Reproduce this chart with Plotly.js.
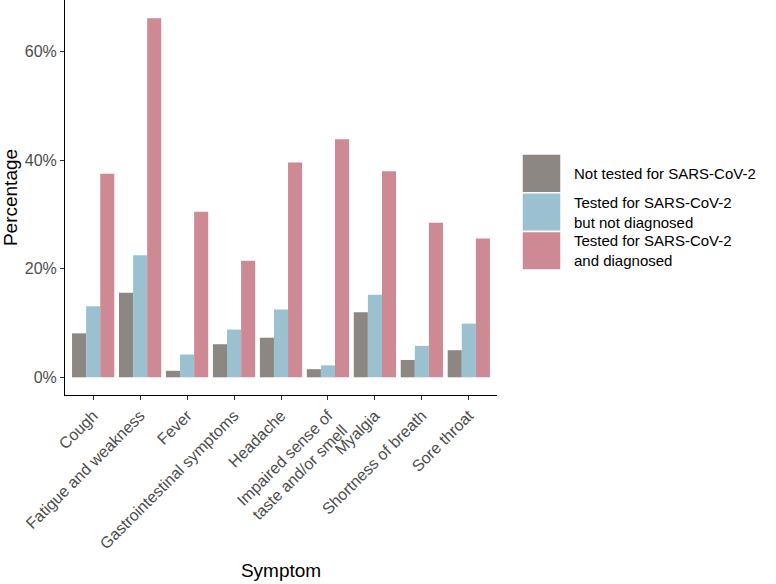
<!DOCTYPE html>
<html>
<head>
<meta charset="utf-8">
<script src="https://cdn.plot.ly/plotly-3.0.1.min.js"></script>
<style>html,body{margin:0;padding:0;background:#fff;}#chart{width:776px;height:584px;}</style>
</head>
<body>
<div id="chart"></div>
<script>
const symptoms = ["Cough", "Fatigue and weakness", "Fever", "Gastrointestinal symptoms", "Headache",
  "Impaired sense of<br>taste and/or smell", "Myalgia", "Shortness of breath", "Sore throat"];
const seriesNames = ["Not tested for SARS-CoV-2", "Tested for SARS-CoV-2<br>but not diagnosed", "Tested for SARS-CoV-2<br>and diagnosed"];
const notTested = [8.1, 15.6, 1.2, 6.1, 7.3, 1.5, 12.0, 3.2, 5.0];
const testedNotDiagnosed = [13.1, 22.5, 4.2, 8.8, 12.5, 2.2, 15.2, 5.8, 9.9];
const testedDiagnosed = [37.5, 66.2, 30.5, 21.5, 39.6, 43.9, 38.0, 28.5, 25.6];
const yTicks = [0, 20, 40, 60];
const colors = ["#8C8782", "#9BC1D1", "#CE8A94"];

const values = [notTested, testedNotDiagnosed, testedDiagnosed];
const traces = values.map((v, i) => ({
  type: "bar", x: symptoms, y: v, name: seriesNames[i],
  marker: {color: colors[i], line: {width: 0}}, showlegend: false, hoverinfo: "x+y"
}));

// custom legend (ggplot-style large keys)
const plotL = 65, plotR = 497, plotT = 0, plotB = 395;
const px2x = p => (p - plotL) / (plotR - plotL);
const px2y = p => (plotB - p) / (plotB - plotT);
const keyTop = 154, keyH = 38.7, keyL = 522, keyR = 561;
const shapes = [], annotations = [];
seriesNames.forEach((n, i) => {
  const t = keyTop + i * keyH, b = t + keyH;
  shapes.push({type: "rect", xref: "paper", yref: "paper", x0: px2x(keyL), x1: px2x(keyR),
    y0: px2y(b), y1: px2y(t), fillcolor: colors[i], line: {color: "#ffffff", width: 1.5}, layer: "above"});
  annotations.push({xref: "paper", yref: "paper", x: px2x(572), y: px2y((t + b) / 2),
    xanchor: "left", yanchor: "middle", align: "left", text: n, showarrow: false,
    font: {family: "Liberation Sans, Arial, sans-serif", size: 15, color: "#000"}});
});

const layout = {
  width: 776, height: 584,
  margin: {l: 65, r: 279, t: 0, b: 189, pad: 0},
  paper_bgcolor: "#fff", plot_bgcolor: "#fff",
  font: {family: "Liberation Sans, Arial, sans-serif"},
  barmode: "group", bargap: 0.1, bargroupgap: 0,
  showlegend: false,
  xaxis: {
    type: "category", categoryarray: symptoms, range: [-0.6, 8.6],
    showline: true, linecolor: "#000", linewidth: 1, mirror: false,
    ticks: "outside", ticklen: 4, tickcolor: "#333", tickwidth: 1,
    tickangle: -45, tickfont: {size: 16, color: "#4D4D4D"},
    showgrid: false, zeroline: false, automargin: false,
    title: {text: "Symptom", font: {size: 19, color: "#000"}, standoff: 12}
  },
  yaxis: {
    range: [-3.26, 69.55], tickvals: yTicks, ticktext: yTicks.map(t => t + "%"),
    showline: true, linecolor: "#000", linewidth: 1,
    ticks: "outside", ticklen: 4, tickcolor: "#333", tickwidth: 1,
    tickfont: {size: 16, color: "#4D4D4D"},
    showgrid: false, zeroline: false, automargin: false,
    title: {text: "Percentage", font: {size: 19, color: "#000"}, standoff: 9}
  },
  shapes: shapes, annotations: annotations
};
Plotly.newPlot("chart", traces, layout, {displayModeBar: false, staticPlot: true});
</script>
</body>
</html>
